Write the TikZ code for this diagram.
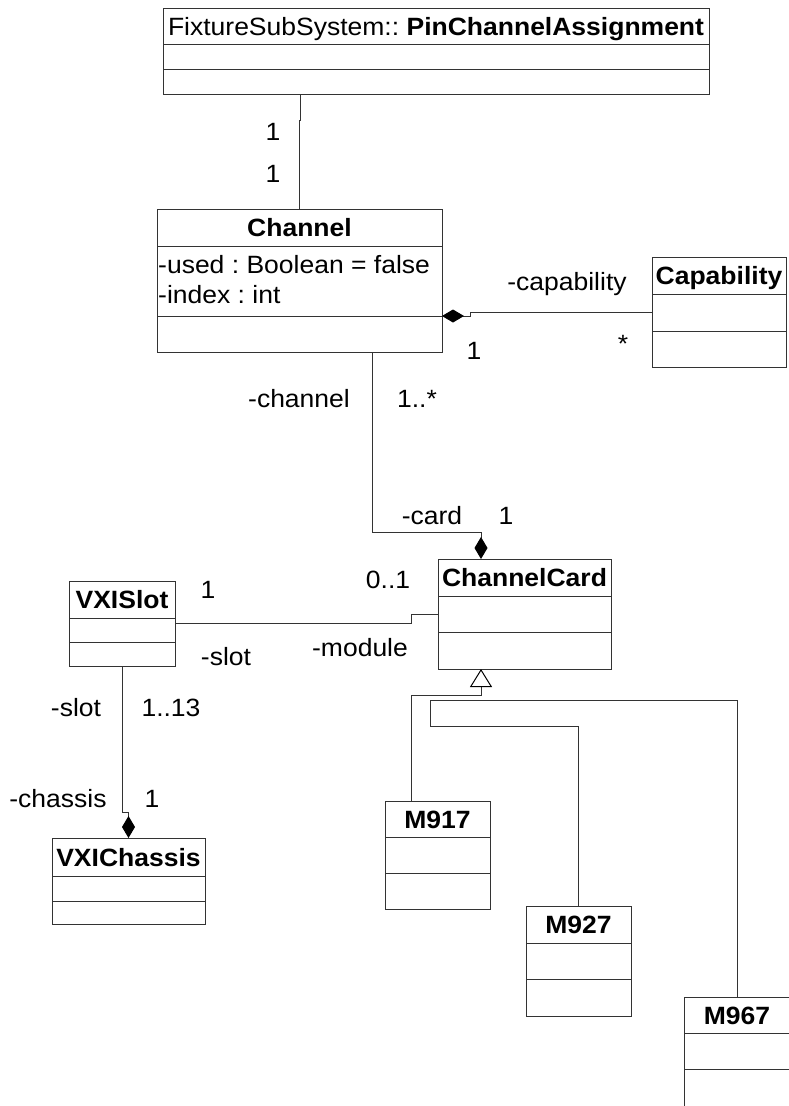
\documentclass[tikz,border=0pt]{standalone}
\usepackage{fontspec}
\setmainfont{Liberation Sans}[FakeStretch=1.06]
\usetikzlibrary{arrows.meta}

% class box: name, x, y, width, header, attributes, operations, title
\newcommand{\umlclass}[8]{%
  \node[classbox, minimum width=#4pt, minimum height=#5pt+#6pt+#7pt] (#1) at (#2,#3) {};
  \draw[umlline] ([yshift=-#5pt]#1.north west) -- ([yshift=-#5pt]#1.north east);
  \draw[umlline] ([yshift=-#5pt-#6pt]#1.north west) -- ([yshift=-#5pt-#6pt]#1.north east);
  \node[classname] (#1-title) at ([yshift=-#5pt/2-9pt]#1.north) {#8};
}

\begin{document}
\frenchspacing
\begin{tikzpicture}[
    x=1pt, y=-1pt,
    every node/.style={font=\fontsize{25}{29}\selectfont},
    classbox/.style={draw=black!80, line width=1pt, fill=white, anchor=north west, inner sep=0pt, outer sep=0pt},
    umlline/.style={draw=black!80, line width=1pt},
    classname/.style={anchor=base, inner sep=0pt, font=\fontsize{25}{29}\selectfont\bfseries},
    attr/.style={anchor=base west, inner sep=0pt},
    lbl/.style={anchor=base, inner sep=0pt},
    assoc/.style={draw=black!80, line width=1pt},
    comp/.style={assoc, -{Diamond[length=22pt,width=13pt,fill=black,color=black]}},
    gen/.style={assoc, -{Triangle[open,length=18pt,width=22pt,color=black]}}
]
    \useasboundingbox (0,0) rectangle (789,1106);
    \clip (0,0) rectangle (789,1106);
    \fill[white] (0,0) rectangle (789,1106);

    % classes
    \umlclass{pca}{163}{8}{546}{36}{25}{25}{\textmd{FixtureSubSystem::} PinChannelAssignment}
    \umlclass{channel}{157}{209}{285}{37}{70}{36}{Channel}
    \umlclass{capability}{652}{257}{134}{37}{37}{36}{Capability}
    \umlclass{card}{438}{559}{173}{37}{36}{37}{ChannelCard}
    \umlclass{slot}{69}{581}{106}{37}{24}{24}{VXISlot}
    \umlclass{chassis}{52}{838}{153}{38}{25}{23}{VXIChassis}
    \umlclass{m917}{385}{801}{105}{36}{36}{36}{M917}
    \umlclass{m927}{526}{906}{105}{37}{36}{37}{M927}
    \umlclass{m967}{684}{997}{106}{36}{36}{40}{M967}

    \node[attr] (used) at (158,273) {-used : Boolean = false};
    \node[attr] (index) at (158,303) {-index : int};

    % associations
    \coordinate (pcajog) at (300.5,120);
    \draw[assoc] (pca.south -| pcajog) -- (pcajog) -| (channel.north);
    \node[lbl] (pca-m1) at (273,140) {1};
    \node[lbl] (pca-m2) at (273,182) {1};

    \coordinate (capjog) at (470,316);
    \draw[comp] (capability.west) -| (capjog) -- ([yshift=-107pt]channel.north east);
    \node[lbl] (cap-role) at (567,290) {-capability};
    \node[lbl] (cap-m1) at (623,352) {*};
    \node[lbl] (cap-m2) at (474,359) {1};

    \draw[comp] ([xshift=215pt]channel.south west) -- ++(0,180) -| ([xshift=43pt]card.north west);
    \node[lbl] (card-role1) at (299,407) {-channel};
    \node[lbl] (card-m1) at (417,407) {1..*};
    \node[lbl] (card-role2) at (432,524) {-card};
    \node[lbl] (card-m2) at (506,524) {1};

    \draw[assoc] (slot.east) -- ++(236,0) |- (card.west);
    \node[lbl] (slot-m1) at (208,598) {1};
    \node[lbl] (slot-m2) at (388,588) {0..1};
    \node[lbl] (slot-role1) at (226,665) {-slot};
    \node[lbl] (slot-role2) at (360,656) {-module};

    \draw[comp] (slot.south) -- ++(0,146) -| (chassis.north);
    \node[lbl] (chassis-role1) at (76,716) {-slot};
    \node[lbl] (chassis-m1) at (171,716) {1..13};
    \node[lbl] (chassis-role2) at (58,807) {-chassis};
    \node[lbl] (chassis-m2) at (152,807) {1};

    % generalization
    \draw[gen] ([xshift=26pt]m917.north west) -- ++(0,-106) -| ([xshift=43pt]card.south west);
    \coordinate (genA) at (430,726);
    \coordinate (genB) at (430,700);
    \draw[assoc] (m927.north) |- (genA) -- (genB) -| (m967.north);
\end{tikzpicture}
\end{document}
